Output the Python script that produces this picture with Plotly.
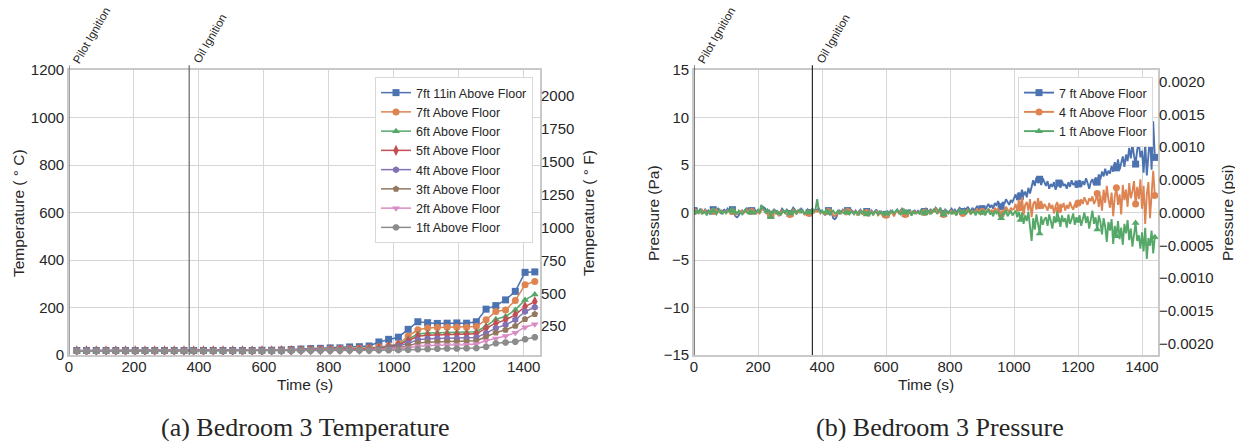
import plotly.graph_objects as go

# ---------------- Bedroom 3 temperature (thermocouple array) ----------------
temp_time = list(range(24, 1440, 30))  # s, 48 samples

t_7ft11in = [19, 19, 19, 19, 19, 19, 19, 19, 19, 19, 19, 19, 19, 19, 19, 19, 19, 19, 19, 20,
             20, 21, 23, 25, 27, 28, 30, 30, 34, 35, 38, 55, 66, 75, 108, 140, 136, 133, 134, 135,
             134, 140, 193, 208, 232, 268, 348, 350]
t_7ft = [18, 18, 18, 18, 18, 18, 18, 18, 18, 18, 18, 18, 18, 18, 18, 18, 18, 18, 18, 18,
         19, 20, 21, 22, 23, 24, 25, 26, 27, 28, 30, 35, 38, 46, 80, 106, 114, 116, 117, 117,
         117, 120, 148, 183, 190, 229, 296, 310]
t_6ft = [18, 18, 18, 18, 18, 18, 18, 18, 18, 18, 18, 18, 18, 18, 18, 18, 18, 18, 18, 18,
         19, 19, 20, 21, 22, 23, 23, 24, 25, 26, 27, 30, 38, 44, 66, 88, 93, 94, 95, 95,
         95, 98, 122, 151, 162, 190, 232, 255]
t_5ft = [18, 18, 18, 18, 18, 18, 18, 18, 18, 18, 18, 18, 18, 18, 18, 18, 18, 18, 18, 18,
         18, 19, 19, 20, 21, 21, 22, 23, 23, 24, 25, 28, 35, 42, 60, 79, 83, 84, 85, 85,
         86, 89, 113, 134, 148, 169, 204, 225]
t_4ft = [18, 18, 18, 18, 18, 18, 18, 18, 18, 18, 18, 18, 18, 18, 18, 18, 18, 18, 18, 18,
         18, 18, 19, 19, 20, 20, 21, 21, 22, 22, 23, 26, 32, 38, 49, 64, 68, 69, 70, 70,
         71, 74, 92, 113, 127, 148, 183, 201]
t_3ft = [18, 18, 18, 18, 18, 18, 18, 18, 18, 18, 18, 18, 18, 18, 18, 18, 18, 18, 18, 18,
         18, 18, 18, 19, 19, 19, 20, 20, 21, 21, 22, 24, 27, 31, 38, 51, 54, 55, 56, 56,
         57, 60, 77, 94, 106, 122, 151, 172]
t_2ft = [18, 18, 18, 18, 18, 18, 18, 18, 18, 18, 18, 18, 18, 18, 18, 18, 18, 18, 18, 18,
         18, 18, 18, 18, 19, 19, 19, 19, 20, 20, 20, 22, 24, 26, 30, 37, 40, 41, 42, 42,
         43, 46, 60, 70, 80, 94, 117, 130]
t_1ft = [17, 17, 17, 17, 17, 17, 17, 17, 17, 17, 17, 17, 17, 17, 17, 17, 17, 17, 17, 17,
         17, 17, 17, 18, 18, 18, 18, 18, 19, 19, 19, 20, 20, 21, 22, 24, 25, 26, 27, 27,
         28, 29, 35, 49, 53, 56, 66, 75]

temp_labels = ["7ft 11in Above Floor", "7ft Above Floor", "6ft Above Floor", "5ft Above Floor",
               "4ft Above Floor", "3ft Above Floor", "2ft Above Floor", "1ft Above Floor"]

# ---------------- Bedroom 3 pressure (Pa), sampled every 5 s ----------------
pres_time = list(range(0, 1445, 5))  # s, 289 samples

p_7ft = [
    0.2, 0.1, 0.3, 0.0, 0.4, 0.2, -0.1, 0.3, 0.1, 0.2,
    -0.2, 0.1, 0.3, 0.0, 0.2, 0.4, 0.1, -0.1, 0.2, 0.3,
    0.1, 0.4, 0.2, -0.1, 0.3, 0.0, -0.4, -0.5, -0.3, 0.1,
    0.2, 0.0, 0.3, 0.5, 0.1, -0.2, 0.2, 0.1, 0.3, 0.0,
    0.2, -0.1, 0.4, 0.6, 0.5, 0.3, 0.1, 0.2, -0.2, 0.1,
    0.3, 0.0, 0.2, -0.3, 0.1, 0.4, 0.2, 0.0, 0.3, 0.1,
    -0.1, 0.2, 0.5, 0.3, 0.0, 0.2, 0.1, 0.4, 0.2, -0.2,
    0.1, 0.3, 0.0, 0.2, 0.4, 0.1, 0.3, 0.2, 0.5, 0.1,
    0.2, 0.0, -0.3, 0.1, 0.2, -0.2, 0.0, -0.6, -0.7, -0.5,
    0.1, 0.2, 0.0, 0.3, 0.1, -0.1, 0.2, 0.0, 0.3, 0.1,
    0.0, 0.2, -0.2, 0.1, 0.3, 0.0, -0.1, 0.2, 0.1, -0.3,
    0.0, 0.2, -0.1, 0.1, 0.3, -0.2, 0.0, 0.1, -0.3, 0.0,
    -0.2, 0.1, -0.1, 0.2, 0.0, -0.3, 0.1, 0.3, 0.0, 0.2,
    0.4, 0.1, -0.1, 0.2, 0.0, 0.3, -0.2, 0.1, 0.2, 0.0,
    0.2, 0.0, 0.3, -0.1, 0.1, 0.4, 0.2, 0.0, 0.3, 0.1,
    0.2, 0.5, 0.3, 0.1, 0.4, 0.2, -0.1, 0.3, 0.1, 0.0,
    0.2, 0.4, 0.1, 0.3, 0.0, 0.2, 0.5, 0.3, 0.1, 0.4,
    0.2, 0.6, 0.3, 0.1, 0.5, 0.2, 0.4, 0.7, 0.3, 0.5,
    0.4, 0.7, 0.3, 0.6, 0.9, 0.5, 0.8, 0.4, 1.0, 0.7,
    1.2, 0.8, 0.6, 1.1, 0.9, 1.4, 1.0, 0.8, 1.3, 1.1,
    1.5, 1.9, 1.3, 2.1, 1.7, 2.4, 1.8, 2.2, 1.6, 2.6,
    2.0, 2.9, 3.4, 2.8, 3.7, 3.1, 3.5, 2.9, 3.6, 3.2,
    2.8, 3.3, 2.5, 3.0, 2.7, 3.2, 2.4, 2.9, 3.1, 2.6,
    3.3, 2.8, 3.0, 2.5, 3.2, 2.7, 3.4, 2.9, 3.1, 2.6,
    3.0, 3.4, 2.7, 3.3, 2.9, 3.6, 3.1, 2.5, 3.2, 3.5,
    2.9, 3.7, 3.2, 4.0, 3.5, 4.3, 3.8, 4.6, 3.9, 4.4,
    4.1, 4.9, 4.3, 5.3, 4.7, 5.6, 4.5, 5.2, 5.9, 4.8,
    6.1, 5.4, 6.8, 5.7, 7.2, 6.0, 5.1, 6.6, 7.4, 5.8,
    6.5, 4.2, 7.3, 3.9, 6.2, 8.1, 4.5, 9.6, 5.8,
]
p_4ft = [
    0.1, 0.0, 0.2, -0.1, 0.1, 0.3, 0.0, 0.2, -0.2, 0.1,
    0.0, 0.2, 0.1, -0.1, 0.3, 0.1, 0.0, 0.2, -0.1, 0.1,
    0.0, 0.2, 0.1, -0.2, 0.1, 0.0, -0.2, -0.1, 0.1, 0.0,
    0.2, -0.1, 0.1, 0.3, 0.0, -0.1, 0.1, 0.2, 0.0, -0.1,
    0.1, -0.1, 0.2, 0.4, 0.2, 0.0, -0.2, 0.1, -0.3, 0.0,
    0.2, -0.1, 0.1, -0.4, 0.0, 0.2, 0.1, -0.1, 0.2, 0.0,
    -0.2, 0.1, 0.3, 0.0, -0.1, 0.2, 0.0, 0.2, 0.1, -0.2,
    0.0, 0.2, -0.1, 0.1, 0.3, 0.0, 0.2, 0.1, 0.3, -0.1,
    0.1, -0.1, -0.2, 0.0, 0.1, -0.2, 0.1, -0.3, -0.4, -0.2,
    0.0, 0.1, -0.1, 0.2, 0.0, -0.2, 0.1, -0.1, 0.2, 0.0,
    -0.1, 0.1, -0.3, 0.0, 0.2, -0.1, -0.2, 0.1, 0.0, -0.4,
    -0.1, 0.1, -0.2, 0.0, 0.2, -0.3, -0.1, 0.0, -0.4, -0.1,
    -0.3, 0.0, -0.2, 0.1, -0.1, -0.4, 0.0, 0.2, -0.1, 0.1,
    0.3, 0.0, -0.2, 0.1, -0.1, 0.2, -0.3, 0.0, 0.1, -0.1,
    0.1, -0.1, 0.2, -0.2, 0.0, 0.3, 0.1, -0.1, 0.2, 0.0,
    0.1, 0.4, 0.2, 0.0, 0.3, 0.1, -0.2, 0.2, 0.0, -0.1,
    0.1, 0.2, -0.1, 0.1, -0.2, 0.0, 0.3, 0.1, -0.1, 0.2,
    0.0, 0.3, 0.1, -0.2, 0.2, 0.0, 0.1, 0.4, 0.0, 0.2,
    0.1, 0.3, -0.1, 0.2, 0.4, 0.0, 0.3, -0.1, 0.5, 0.2,
    0.4, 0.1, -0.2, 0.3, 0.1, 0.6, 0.2, 0.0, 0.5, 0.3,
    0.4, 0.9, 0.1, 1.3, 0.5, 1.6, -0.3, 0.8, 1.1, 0.2,
    1.4, -0.5, 0.9, 1.2, 0.3, 1.5, 0.7, 1.2, 0.4, 0.9,
    0.6, 0.2, 1.0, 0.4, 0.8, -0.1, 0.7, 1.1, 0.3, 0.9,
    0.5, 1.0, 0.2, 0.8, 0.4, 1.1, 0.6, 0.3, 0.9, 0.5,
    1.0, 0.7, 1.4, 0.9, 1.6, 1.1, 0.8, 1.5, 1.2, 1.7,
    0.9, 1.3, 2.0, 0.6, 1.8, 0.2, 2.4, 1.0, 2.8, 1.4,
    0.5, 2.1, -0.4, 1.7, 2.6, 0.8, 1.9, -0.2, 2.9, 1.3,
    2.4, 0.6, 3.1, 1.5, 2.2, 3.3, 0.9, 2.7, 1.4, 3.5,
    0.4, 2.8, -1.2, 1.9, 3.2, -0.6, 2.3, 4.4, 1.8,
]
p_1ft = [
    0.1, -0.1, 0.2, 0.0, 0.3, -0.2, 0.1, 0.0, -0.3, 0.2,
    0.1, -0.1, 0.2, 0.0, -0.2, 0.1, 0.3, 0.0, -0.1, 0.2,
    -0.1, 0.1, 0.2, 0.0, 0.3, -0.2, 0.1, -0.1, 0.2, 0.0,
    -0.2, 0.1, 0.3, 0.0, -0.1, 0.2, 0.0, 0.1, -0.2, 0.1,
    0.3, 0.0, 0.8, 0.5, 0.2, -0.1, 0.3, 0.1, -0.5, 0.2,
    0.0, 0.2, -0.2, 0.1, -0.3, 0.0, 0.2, -0.1, 0.3, 0.0,
    -0.1, 0.2, 0.0, 0.3, -0.2, 0.1, 0.3, 0.0, 0.2, -0.1,
    0.1, 0.2, 0.0, 0.3, -0.1, 0.2, 0.4, 1.4, 0.2, 0.0,
    0.2, -0.1, 0.1, 0.3, 0.0, -0.2, 0.1, 0.2, -0.1, 0.0,
    0.2, -0.2, 0.1, 0.0, -0.1, 0.2, 0.0, -0.2, 0.1, 0.0,
    -0.2, 0.1, 0.0, -0.3, 0.1, -0.1, 0.2, 0.0, -0.2, 0.1,
    -0.1, 0.0, -0.3, 0.1, 0.0, -0.2, 0.2, -0.1, 0.0, -0.3,
    -0.1, 0.1, -0.2, 0.0, 0.2, -0.1, 0.1, 0.3, 0.0, -0.2,
    0.1, 0.4, 0.0, -0.1, 0.2, 0.0, -0.3, 0.1, -0.1, 0.0,
    0.1, -0.2, 0.2, 0.0, -0.1, 0.3, 0.0, 0.2, -0.2, 0.1,
    0.4, 0.1, -0.1, 0.2, 0.5, 0.0, -0.2, 0.2, 0.0, -0.1,
    0.1, -0.2, 0.2, 0.0, -0.3, 0.1, 0.3, -0.1, 0.0, 0.2,
    -0.2, 0.1, 0.3, -0.1, 0.0, 0.2, -0.3, 0.1, 0.0, -0.2,
    0.0, 0.2, -0.3, 0.1, 0.4, -0.2, 0.0, -0.4, 0.2, -0.1,
    0.1, -0.3, -0.6, 0.0, -0.2, 0.3, -0.4, -0.1, 0.2, -0.3,
    -0.1, 0.2, -0.5, 0.1, -0.8, 0.0, -1.2, -0.3, -0.9, 0.1,
    -1.5, -3.0, -0.6, -1.8, -0.2, -1.1, -2.2, -0.4, -1.3, -0.7,
    -0.5, -1.4, -0.2, -0.9, -1.7, -0.4, -1.1, 0.1, -0.8, -1.5,
    -0.3, -1.0, -0.6, -1.6, -0.2, -1.2, -0.7, -0.1, -1.3, -0.5,
    -0.9, -0.3, -1.4, -0.6, 0.0, -1.1, -0.4, -1.7, -0.8, 0.2,
    -1.2, -0.5, -1.8, -0.3, -1.0, -2.3, -0.6, -1.5, -3.1, -1.0,
    -1.9, -0.7, -3.3, -1.4, -2.5, -0.9, -2.8, -1.6, -3.4, -1.2,
    -2.2, -0.8, -2.9, -1.7, -3.6, -2.0, -1.1, -3.0, -2.4, -3.8,
    -2.1, -4.1, -1.6, -4.9, -2.7, -3.5, -1.9, -4.3, -2.6,
]
pres_labels = ["7 ft Above Floor", "4 ft Above Floor", "1 ft Above Floor"]

# event times (s)
pilot_ignition = 0
oil_ignition = 370

# axis limits / ticks
time_range = [0, 1450]
time_ticks = [0, 200, 400, 600, 800, 1000, 1200, 1400]
temp_c_range = [0, 1200]
temp_c_ticks = [0, 200, 400, 600, 800, 1000, 1200]
temp_f_ticks = [250, 500, 750, 1000, 1250, 1500, 1750, 2000]
pres_pa_range = [-15, 15]
pres_pa_ticks = [-15, -10, -5, 0, 5, 10, 15]
pres_psi_ticks = [-0.002, -0.0015, -0.001, -0.0005, 0.0, 0.0005, 0.001, 0.0015, 0.002]

PA_TO_PSI = 0.000145038

def c_to_f(c):
    return c * 9.0 / 5.0 + 32.0

# ---------------- styling ----------------
W, H = 1235, 441
SANS = "Liberation Sans, Arial, sans-serif"
SERIF = "Liberation Serif, Times New Roman, serif"
TXT = "#262626"
GRID = "#d6d6d6"
SPINE = "#c9c9c9"

palette = ["#4C72B0", "#DD8452", "#55A868", "#C44E52", "#8172B3", "#937860", "#DA8BC3", "#8C8C8C"]
temp_symbols = ["square", "circle", "triangle-up", "diamond-tall", "hexagon", "pentagon",
                "triangle-down", "octagon"]
temp_sizes = [7, 7, 7, 8, 7, 7, 7, 7]
pres_symbols = ["square", "circle", "triangle-up"]
pres_colors = ["#4C72B0", "#DD8452", "#55A868"]

# plot-area boxes in pixels (left, right, top, bottom)
L1, R1 = 69, 540
L2, R2 = 694, 1158
TOP, BOT = 70, 355

def px_x(p):
    return p / W

def px_y(p):
    return 1 - p / H

fig = go.Figure()

temp_series = [t_7ft11in, t_7ft, t_6ft, t_5ft, t_4ft, t_3ft, t_2ft, t_1ft]
for i, (vals, name) in enumerate(zip(temp_series, temp_labels)):
    fig.add_trace(go.Scatter(
        x=temp_time, y=vals, name=name, mode="lines+markers",
        line=dict(color=palette[i], width=1.5),
        marker=dict(symbol=temp_symbols[i], size=temp_sizes[i], color=palette[i],
                    line=dict(width=0)),
        xaxis="x", yaxis="y", legend="legend",
    ))

# same top reading in degrees F on the twin axis (invisible, only carries the F scale)
fig.add_trace(go.Scatter(
    x=temp_time, y=[c_to_f(v) for v in t_7ft11in], mode="lines", opacity=0,
    line=dict(width=0), showlegend=False, hoverinfo="skip", xaxis="x", yaxis="y2",
))

# pressure: a marker every 60 s on a continuous line
pres_series = [p_7ft, p_4ft, p_1ft]
for i, (vals, name) in enumerate(zip(pres_series, pres_labels)):
    mcolors = [pres_colors[i] if k % 12 == 0 else "rgba(0,0,0,0)" for k in range(len(vals))]
    fig.add_trace(go.Scatter(
        x=pres_time, y=vals, name=name, mode="lines+markers",
        line=dict(color=pres_colors[i], width=1.9),
        marker=dict(symbol=pres_symbols[i], size=7, color=mcolors, line=dict(width=0)),
        xaxis="x2", yaxis="y3", legend="legend2",
    ))

# same reading in psi on the twin axis (invisible, only carries the psi scale)
fig.add_trace(go.Scatter(
    x=pres_time, y=[v * PA_TO_PSI for v in p_7ft], mode="lines", opacity=0,
    line=dict(width=0), showlegend=False, hoverinfo="skip", xaxis="x2", yaxis="y4",
))

axis_common = dict(
    showgrid=True, gridcolor=GRID, gridwidth=1,
    showline=True, linecolor=SPINE, linewidth=1.6, mirror=True,
    zeroline=False, ticks="", tickfont=dict(family=SANS, size=15, color=TXT),
)
xaxis_common = dict(axis_common, ticklabelstandoff=-3)
ydom = [px_y(BOT), px_y(TOP)]

fig.update_layout(
    width=W, height=H,
    margin=dict(l=0, r=0, t=0, b=0, pad=0, autoexpand=False),
    paper_bgcolor="white", plot_bgcolor="white",
    font=dict(family=SANS, color=TXT),
    xaxis=dict(domain=[px_x(L1), px_x(R1)], range=time_range, tickvals=time_ticks,
               anchor="y", **xaxis_common),
    yaxis=dict(domain=ydom, range=temp_c_range, tickvals=temp_c_ticks, anchor="x",
               **axis_common),
    yaxis2=dict(overlaying="y", side="right", anchor="x", range=[c_to_f(v) for v in temp_c_range],
                tickvals=temp_f_ticks, showgrid=False, zeroline=False, showline=False,
                ticks="", tickfont=dict(family=SANS, size=15, color=TXT)),
    xaxis2=dict(domain=[px_x(L2), px_x(R2)], range=time_range, tickvals=time_ticks,
                anchor="y3", **xaxis_common),
    yaxis3=dict(domain=ydom, range=pres_pa_range, tickvals=pres_pa_ticks, anchor="x2",
                **axis_common),
    yaxis4=dict(overlaying="y3", side="right", anchor="x2",
                range=[v * PA_TO_PSI for v in pres_pa_range], tickvals=pres_psi_ticks,
                tickformat=".4f", showgrid=False, zeroline=False, showline=False,
                ticks="", tickfont=dict(family=SANS, size=15, color=TXT)),
    legend=dict(x=px_x(533), y=px_y(77), xanchor="right", yanchor="top",
                bgcolor="white", bordercolor="#d9d9d9", borderwidth=1,
                font=dict(family=SANS, size=12.5, color=TXT), tracegroupgap=0),
    legend2=dict(x=px_x(1153), y=px_y(77), xanchor="right", yanchor="top",
                 bgcolor="white", bordercolor="#d9d9d9", borderwidth=1,
                 font=dict(family=SANS, size=12.5, color=TXT), tracegroupgap=0),
    showlegend=True,
)

# ignition markers
shapes = []
annotations = []
for xref, yref, col in (("x", "y", "#666666"), ("x2", "y3", "#2a2a2a")):
    for t, label in ((pilot_ignition, "Pilot Ignition"), (oil_ignition, "Oil Ignition")):
        shapes.append(dict(type="line", xref=xref, yref=f"{yref} domain",
                           x0=t, x1=t, y0=0, y1=1.017,
                           line=dict(color=col, width=1.2)))
        annotations.append(dict(x=t, y=1, xref=xref, yref=f"{yref} domain",
                                text=label, textangle=-60, showarrow=False,
                                xanchor="left", yanchor="bottom", yshift=2, xshift=-1,
                                font=dict(family=SANS, size=11.5, color=TXT)))

def title(text, xpix, ypix, angle=0, size=15.5, family=SANS):
    return dict(text=text, x=px_x(xpix), y=px_y(ypix), xref="paper", yref="paper",
                showarrow=False, textangle=angle, xanchor="center", yanchor="middle",
                font=dict(family=family, size=size, color=TXT))

annotations += [
    title("Time (s)", 305, 384),
    title("Time (s)", 926, 384),
    title("Temperature ( ° C)", 18, 213, -90),
    title("Temperature ( ° F)", 588, 213, -90),
    title("Pressure (Pa)", 653, 213, -90),
    title("Pressure (psi)", 1227, 213, -90),
    title("(a) Bedroom 3 Temperature", 305, 427, size=26, family=SERIF),
    title("(b) Bedroom 3 Pressure", 940, 427, size=26, family=SERIF),
]

fig.update_layout(shapes=shapes, annotations=annotations)

fig.write_html("out.html")
